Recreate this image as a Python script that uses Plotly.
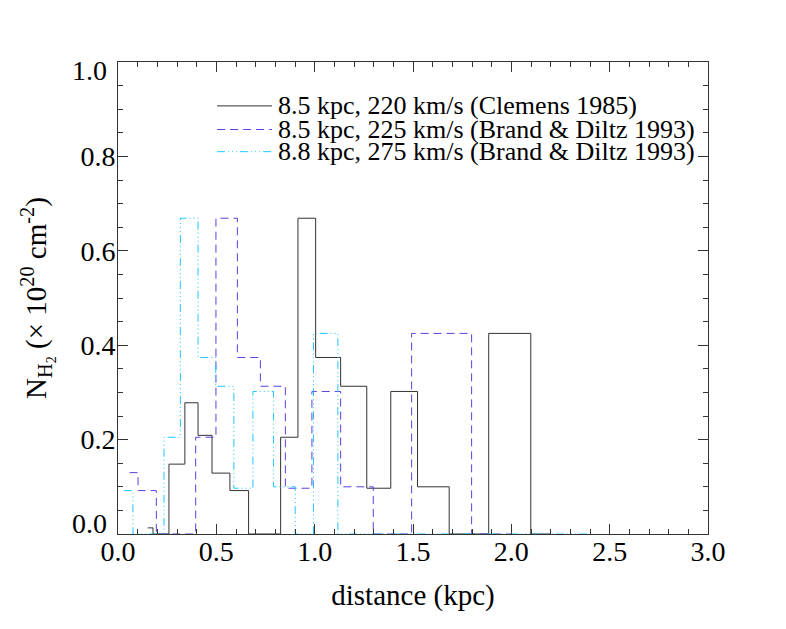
import plotly.graph_objects as go

# bin edges (kpc) and column densities (1e20 cm^-2)
clemens_edges = [0.151, 0.178, 0.259, 0.340, 0.407, 0.478, 0.569, 0.664, 0.827, 0.915,
                 1.005, 1.132, 1.265, 1.387, 1.523, 1.684, 1.885, 2.099, 2.20]
clemens_nh2 = [0.013, 0.0, 0.148, 0.278, 0.209, 0.129, 0.092, 0.0, 0.205, 0.669,
               0.374, 0.313, 0.097, 0.302, 0.100, 0.0, 0.425, 0.0]

bd225_edges = [0.059, 0.102, 0.195, 0.395, 0.498, 0.607, 0.724, 0.851, 0.986,
               1.132, 1.298, 1.493, 1.798, 2.00]
bd225_nh2 = [0.130, 0.092, 0.0, 0.205, 0.669, 0.374, 0.313, 0.097, 0.302,
             0.100, 0.0, 0.425, 0.0]

bd275_edges = [0.029, 0.076, 0.234, 0.317, 0.407, 0.497, 0.589, 0.686, 0.791,
               0.901, 0.994, 1.118, 2.40]
bd275_nh2 = [0.092, 0.0, 0.205, 0.669, 0.374, 0.313, 0.097, 0.302, 0.100,
             0.0, 0.425, 0.0]

labels = ["8.5 kpc, 220 km/s (Clemens 1985)",
          "8.5 kpc, 225 km/s (Brand & Diltz 1993)",
          "8.8 kpc, 275 km/s (Brand & Diltz 1993)"]

x_ticks = [0.0, 0.5, 1.0, 1.5, 2.0, 2.5, 3.0]
y_ticks = [0.2, 0.4, 0.6, 0.8]
y_end_ticks = [0.0, 1.0]   # IDL nudges these two inward, done with annotations

FONT = "Liberation Serif"
styles = [
    dict(color="#333333", width=1, dash="solid"),
    dict(color="#5b3fe0", width=1, dash="8px,5px"),
    dict(color="#1ec8ff", width=1, dash="8px,3px,1px,3px,1px,3px,1px,3px"),
]

fig = go.Figure()
series = [(clemens_edges, clemens_nh2), (bd225_edges, bd225_nh2), (bd275_edges, bd275_nh2)]
for (edges, vals), st, lab in zip(series, styles, labels):
    fig.add_trace(go.Scatter(x=edges, y=vals + [vals[-1]], mode="lines",
                             line=dict(shape="hv", **st), name=lab, showlegend=False))

# hand-made legend, rows packed tightly like the original
rows_y = [0.907, 0.857, 0.810]
for lab, st, yy in zip(labels, styles, rows_y):
    fig.add_shape(type="line", xref="paper", yref="paper", x0=0.168, x1=0.261,
                  y0=yy, y1=yy, line=st)
    fig.add_annotation(text=lab, xref="paper", yref="paper", x=0.267, y=yy,
                       xanchor="left", yanchor="middle", showarrow=False,
                       font=dict(family=FONT, size=26, color="black"))

for v, shift in zip(y_end_ticks, [11, -8]):
    fig.add_annotation(text=f"{v:.1f}", xref="paper", yref="y", x=0, y=v,
                       xanchor="right", yanchor="middle", xshift=-9, yshift=shift,
                       showarrow=False, font=dict(family=FONT, size=28, color="black"))

axis_common = dict(showline=True, linecolor="#333333", linewidth=1, mirror="ticks",
                   ticks="inside", ticklen=10, tickcolor="#333333", showgrid=False,
                   zeroline=False, tickfont=dict(family=FONT, size=28, color="black"))

fig.update_xaxes(range=[0, 3], tickvals=x_ticks, ticktext=[f"{v:.1f}" for v in x_ticks],
                 minor=dict(dtick=0.1, ticks="inside", ticklen=5, tickcolor="#333333"),
                 ticklabelstandoff=-8,
                 title=dict(text="distance (kpc)", font=dict(family=FONT, size=29, color="black"),
                            standoff=19),
                 **axis_common)
fig.update_yaxes(range=[0, 1], tickvals=y_ticks, ticktext=[f"{v:.1f}" for v in y_ticks],
                 minor=dict(dtick=0.05, ticks="inside", ticklen=5, tickcolor="#333333"),
                 ticklabelstandoff=-4,
                 title=dict(text="N<sub>H<sub>2</sub></sub> (× 10<sup>20</sup> cm<sup>-2</sup>)",
                            font=dict(family=FONT, size=29, color="black"), standoff=25),
                 **axis_common)

# page body adds an 8px offset, margins compensate for it
fig.update_layout(width=786, height=629, plot_bgcolor="white", paper_bgcolor="white",
                  margin=dict(l=110, r=86, t=54, b=103, autoexpand=False),
                  font=dict(family=FONT, size=28, color="black"))

fig.write_html("out.html")
